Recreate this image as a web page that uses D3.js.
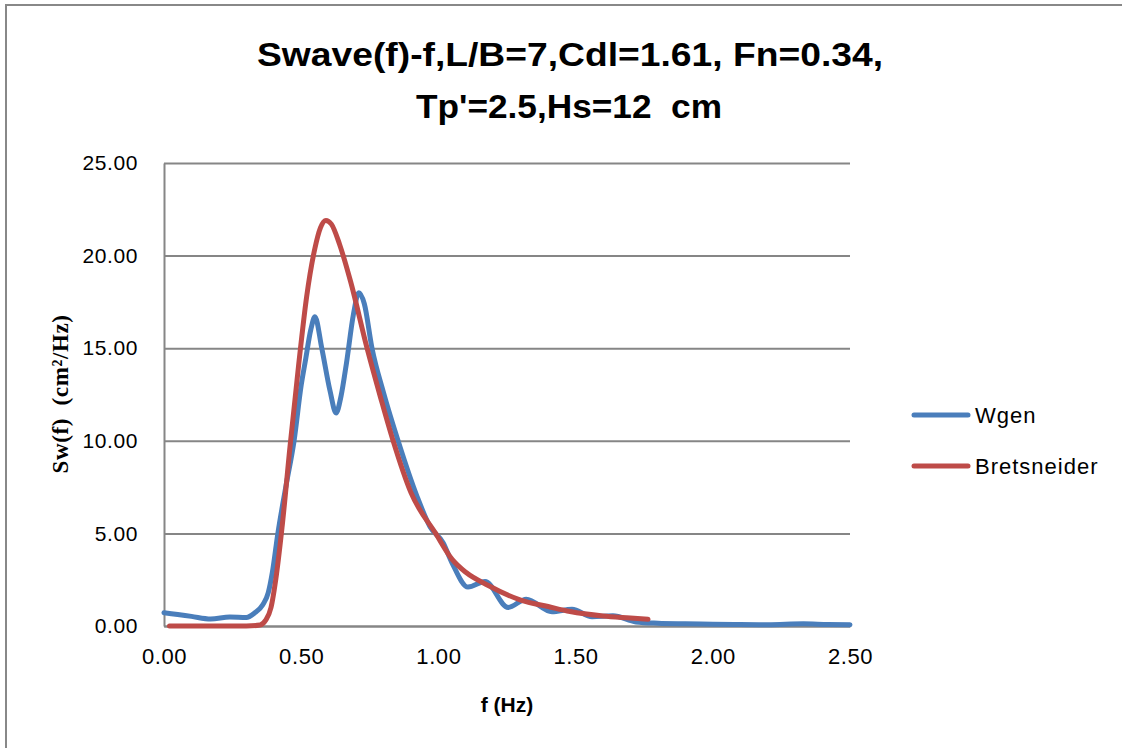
<!DOCTYPE html>
<html>
<head>
<meta charset="utf-8">
<script src="https://cdn.jsdelivr.net/npm/d3@7"></script>
<style>
  body { margin: 0; background: #fff; }
  svg { display: block; }
</style>
</head>
<body>
<div id="chart"></div>
<script>
// frequency (Hz) and spectrum values
const wgenF = [0.00, 0.05, 0.10, 0.17, 0.24, 0.30, 0.33, 0.36, 0.38, 0.395, 0.415, 0.445, 0.474, 0.50, 0.515, 0.535, 0.55, 0.575,
  0.605, 0.627, 0.645, 0.665, 0.69, 0.71, 0.73, 0.758, 0.80, 0.853, 0.922, 0.97, 1.017, 1.05, 1.108, 1.17, 1.254, 1.32, 1.414,
  1.487, 1.56, 1.636, 1.72, 1.80, 1.90, 2.00, 2.10, 2.20, 2.33, 2.42, 2.50];
const wgenS = [0.72, 0.62, 0.52, 0.38, 0.48, 0.46, 0.7, 1.15, 1.8, 2.9, 5.0, 7.6, 10.0, 13.0, 14.3, 16.0, 16.7, 15.0,
  12.7, 11.5, 12.4, 14.2, 16.8, 18.0, 17.4, 15.0, 12.6, 10.0, 7.0, 5.35, 4.5, 3.4, 2.1, 2.4, 1.0, 1.45, 0.77,
  0.9, 0.5, 0.55, 0.22, 0.15, 0.12, 0.1, 0.08, 0.07, 0.12, 0.08, 0.07];

const bretF = [0.02, 0.10, 0.20, 0.30, 0.35, 0.37, 0.39, 0.41, 0.43, 0.46, 0.49, 0.52, 0.55, 0.57, 0.59, 0.61, 0.64, 0.68,
  0.74, 0.79, 0.835, 0.90, 0.99, 1.05, 1.10, 1.18, 1.30, 1.40, 1.48, 1.60, 1.70, 1.764];
const bretS = [0, 0, 0, 0, 0.05, 0.3, 1.0, 2.8, 5.3, 9.8, 14.0, 17.8, 20.4, 21.5, 21.9, 21.7, 20.6, 18.6,
  15.0, 12.3, 10.0, 7.2, 5.0, 3.6, 2.9, 2.2, 1.4, 1.05, 0.78, 0.54, 0.43, 0.36];

const seriesNames = ['Wgen', 'Bretsneider'];
const seriesColors = ['#4a7ebb', '#be4b48'];
const xTicks = [0, 0.5, 1.0, 1.5, 2.0, 2.5];
const yTicks = [0, 5, 10, 15, 20, 25];

const width = 1122, height = 748;
const plot = { left: 164, right: 850, top: 163, bottom: 626 };

const svg = d3.select('#chart').append('svg')
  .attr('width', width)
  .attr('height', height);

// chart frame
svg.append('rect')
  .attr('x', 6).attr('y', 5)
  .attr('width', width + 20).attr('height', height + 20)
  .attr('fill', 'none')
  .attr('stroke', '#888')
  .attr('stroke-width', 2);

const x = d3.scaleLinear().domain([0, 2.5]).range([plot.left, plot.right]);
const y = d3.scaleLinear().domain([0, 25]).range([plot.bottom, plot.top]);

const fmt = d3.format('.2f');
const tickFont = '"Liberation Sans", Arial, sans-serif';

// y axis + gridlines
const yAxis = svg.append('g')
  .attr('transform', 'translate(' + plot.left + ',0)')
  .call(d3.axisLeft(y).tickValues(yTicks).tickFormat(fmt)
    .tickSizeInner(-(plot.right - plot.left)).tickSizeOuter(0).tickPadding(26));
yAxis.select('.domain').attr('stroke', '#868686').attr('stroke-width', 2);
yAxis.selectAll('.tick line').attr('stroke', '#868686').attr('stroke-width', 2);
yAxis.selectAll('.tick text')
  .attr('fill', '#000')
  .style('font-family', tickFont)
  .style('font-size', '21px')
  .style('letter-spacing', '0.6px');

// x axis
const xAxis = svg.append('g')
  .attr('transform', 'translate(0,' + plot.bottom + ')')
  .call(d3.axisBottom(x).tickValues(xTicks).tickFormat(fmt).tickSize(0).tickPadding(22));
xAxis.select('.domain').attr('stroke', '#868686').attr('stroke-width', 2);
xAxis.selectAll('.tick text')
  .attr('fill', '#000')
  .style('font-family', tickFont)
  .style('font-size', '22px')
  .style('letter-spacing', '0.6px');

// series
const line = d3.line()
  .x(function(d) { return x(d[0]); })
  .y(function(d) { return y(d[1]); })
  .curve(d3.curveMonotoneX);

const series = [d3.zip(wgenF, wgenS), d3.zip(bretF, bretS)];
series.forEach(function(pts, i) {
  svg.append('path')
    .datum(pts)
    .attr('d', line)
    .attr('fill', 'none')
    .attr('stroke', seriesColors[i])
    .attr('stroke-width', 5)
    .attr('stroke-linecap', 'round')
    .attr('stroke-linejoin', 'round');
});

// title
const titleFont = '"Liberation Sans", Arial, sans-serif';
svg.append('text')
  .attr('x', 570).attr('y', 66)
  .attr('text-anchor', 'middle')
  .attr('textLength', 626)
  .attr('lengthAdjust', 'spacingAndGlyphs')
  .style('font-family', titleFont)
  .style('font-weight', 'bold')
  .style('font-size', '34px')
  .text('Swave(f)-f,L/B=7,Cdl=1.61, Fn=0.34,');
svg.append('text')
  .attr('x', 569).attr('y', 118)
  .attr('text-anchor', 'middle')
  .attr('textLength', 306)
  .attr('lengthAdjust', 'spacingAndGlyphs')
  .style('font-family', titleFont)
  .style('font-weight', 'bold')
  .style('font-size', '34px')
  .style('white-space', 'pre')
  .text("Tp'=2.5,Hs=12  cm");

// axis titles
svg.append('text')
  .attr('transform', 'translate(68,394) rotate(-90)')
  .attr('text-anchor', 'middle')
  .style('font-family', '"Liberation Serif", "Times New Roman", serif')
  .style('font-weight', 'bold')
  .style('font-size', '23px')
  .style('letter-spacing', '0.6px')
  .style('white-space', 'pre')
  .text('Sw(f)  (cm²/Hz)');

svg.append('text')
  .attr('x', 507).attr('y', 712)
  .attr('text-anchor', 'middle')
  .style('font-family', titleFont)
  .style('font-weight', 'bold')
  .style('font-size', '21px')
  .text('f (Hz)');

// legend
const legend = svg.append('g');
seriesNames.forEach(function(name, i) {
  const ly = 415 + i * 51;
  legend.append('line')
    .attr('x1', 914).attr('x2', 968)
    .attr('y1', ly).attr('y2', ly)
    .attr('stroke', seriesColors[i])
    .attr('stroke-width', 5)
    .attr('stroke-linecap', 'round');
  legend.append('text')
    .attr('x', 975).attr('y', ly + 8)
    .style('font-family', tickFont)
    .style('font-size', '22px')
    .style('letter-spacing', '1px')
    .text(name);
});
</script>
</body>
</html>
